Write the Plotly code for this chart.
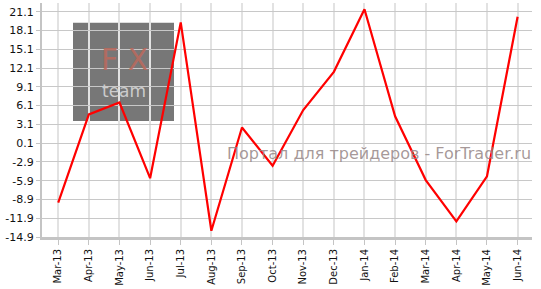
import plotly.graph_objects as go

months = ["Mar-13", "Apr-13", "May-13", "Jun-13", "Jul-13", "Aug-13", "Sep-13", "Oct-13",
          "Nov-13", "Dec-13", "Jan-14", "Feb-14", "Mar-14", "Apr-14", "May-14", "Jun-14"]
values = [-9.4, 4.7, 6.6, -5.5, 19.4, -13.9, 2.6, -3.5, 5.4, 11.5, 21.5, 4.4, -5.8, -12.4, -5.2, 20.3]
y_ticks = [21.1, 18.1, 15.1, 12.1, 9.1, 6.1, 3.1, 0.1, -2.9, -5.9, -8.9, -11.9, -14.9]
y_tick_text = ["21.1", "18.1", "15.1", "12.1", "9.1", "6.1", "3.1", "0.1", "-2.9", "-5.9", "-8.9", "-11.9", "-14.9"]

idx = list(range(len(months)))

fig = go.Figure()
fig.add_trace(go.Scatter(x=idx, y=values, mode="lines",
                         line=dict(color="#ff0000", width=2.2), hoverinfo="skip"))

# watermark logo box
fig.add_shape(type="rect", xref="paper", yref="paper", layer="below",
              x0=(73 - 42) / 490, x1=(174 - 42) / 490,
              y0=(241 - 123) / 238, y1=(241 - 23) / 238,
              fillcolor="#777777", line=dict(width=0))

fig.add_annotation(xref="paper", yref="paper", x=(124 - 42) / 490, y=(241 - 60) / 238,
                   text="F X", showarrow=False,
                   font=dict(family="DejaVu Sans ExtraLight, DejaVu Sans", size=30, color="#b86a5e"),
                   xanchor="center", yanchor="middle", opacity=0.9)
fig.add_annotation(xref="paper", yref="paper", x=(124 - 42) / 490, y=(241 - 92) / 238,
                   text="team", showarrow=False,
                   font=dict(family="DejaVu Sans ExtraLight, DejaVu Sans", size=17, color="#cccccc"),
                   xanchor="center", yanchor="middle")
fig.add_annotation(xref="paper", yref="paper", x=(533 - 42) / 490, y=(241 - 156) / 238,
                   text="Портал для трейдеров - ForTrader.ru", showarrow=False,
                   font=dict(family="DejaVu Sans", size=16, color="rgba(150,135,135,0.85)"),
                   xanchor="right", yanchor="middle")

fig.update_layout(
    width=541, height=289,
    margin=dict(l=42, r=9, t=3, b=48),
    paper_bgcolor="white", plot_bgcolor="white",
    showlegend=False,
    font=dict(family="DejaVu Sans", color="#111111"),
)
fig.update_xaxes(
    range=[-0.53, 15.47], tickmode="array", tickvals=idx, ticktext=months,
    tickangle=-90, tickfont=dict(size=10, color="#111111"),
    showgrid=True, gridcolor="#e2e2e2", gridwidth=2,
    showline=True, linecolor="#c4c4c4", linewidth=3,
    ticks="outside", ticklen=5, tickcolor="#c4c4c4", tickwidth=1,
    zeroline=False, fixedrange=True,
)
fig.update_yaxes(
    range=[-14.9, 22.5], tickmode="array", tickvals=y_ticks, ticktext=y_tick_text,
    tickfont=dict(size=11, color="#111111"),
    showgrid=True, gridcolor="#c8c8c8", gridwidth=1,
    showline=True, linecolor="#c4c4c4", linewidth=2,
    ticks="outside", ticklen=4, tickcolor="#c4c4c4", tickwidth=1,
    zeroline=False, fixedrange=True,
)

fig.write_html("out.html", config={"displayModeBar": False})
